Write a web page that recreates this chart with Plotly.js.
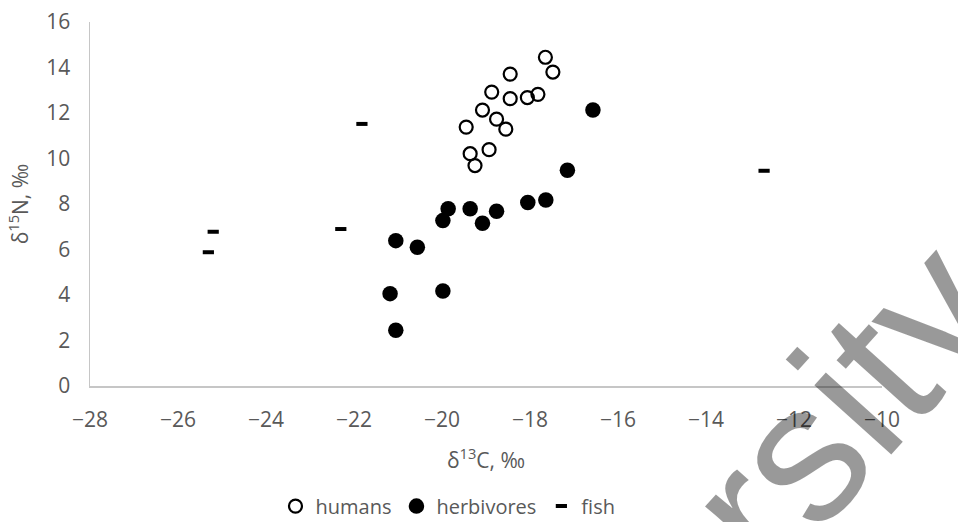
<!DOCTYPE html>
<html>
<head>
<meta charset="utf-8">
<script src="https://cdn.plot.ly/plotly-3.0.1.min.js"></script>
<style>html,body{margin:0;padding:0;background:#fff;}#chart{width:958px;height:522px;}</style>
</head>
<body>
<div id="chart"></div>
<script>
// δ13C (x) and δ15N (y) values, ‰
const humansX = [-17.65, -17.48, -18.45, -18.87, -17.82, -18.06, -18.45, -19.08, -18.76, -19.45, -18.55, -18.93, -19.36, -19.25];
const humansY = [14.45, 13.80, 13.71, 12.92, 12.82, 12.68, 12.63, 12.13, 11.73, 11.38, 11.29, 10.39, 10.21, 9.69];

const herbX = [-16.57, -17.15, -17.64, -18.05, -18.76, -19.08, -19.36, -19.86, -19.98, -21.05, -20.56, -21.18, -19.98, -21.05];
const herbY = [12.13, 9.48, 8.18, 8.07, 7.68, 7.15, 7.79, 7.79, 7.27, 6.39, 6.10, 4.06, 4.18, 2.45];

const fishX = [-21.82, -25.20, -25.31, -22.30, -12.68];
const fishY = [11.52, 6.78, 5.88, 6.90, 9.46];

const xTicks = [-28, -26, -24, -22, -20, -18, -16, -14, -12, -10];
const yTicks = [0, 2, 4, 6, 8, 10, 12, 14, 16];

const seriesNames = ['humans', 'herbivores', 'fish'];
const xTitle = 'δ<sup>13</sup>C, ‰';
const yTitle = 'δ<sup>15</sup>N, ‰';
const watermark = 'ersity';

const FONT = '"Open Sans", "Liberation Sans", sans-serif';
const TXT = '#595959';

const traces = [
  {
    x: humansX, y: humansY, name: seriesNames[0], type: 'scatter', mode: 'markers',
    marker: {symbol: 'circle-open', size: 13, color: '#000', line: {width: 2.2, color: '#000'}}
  },
  {
    x: herbX, y: herbY, name: seriesNames[1], type: 'scatter', mode: 'markers',
    marker: {symbol: 'circle', size: 15.5, color: '#000', line: {width: 0}}
  },
  {
    x: fishX, y: fishY, name: seriesNames[2], type: 'scatter', mode: 'markers',
    marker: {symbol: 'line-ew', size: 8, color: '#000', line: {width: 4, color: '#000'}}
  }
];

const layout = {
  width: 958, height: 522,
  margin: {l: 90, r: 76, t: 22, b: 136, autoexpand: false},
  paper_bgcolor: '#fff', plot_bgcolor: '#fff',
  font: {family: FONT, size: 20, color: TXT},
  showlegend: true,
  legend: {
    orientation: 'h', x: 0.452, xanchor: 'center', y: -0.33, yanchor: 'middle',
    font: {family: FONT, size: 20, color: TXT}, itemwidth: 30, tracegroupgap: 0
  },
  xaxis: {
    range: [-28, -10], tickvals: xTicks, ticktext: xTicks.map(v => (v < 0 ? '\u2212' + Math.abs(v) : String(v))),
    showgrid: false, zeroline: false, showline: true, linecolor: '#c6c6c6', linewidth: 1.5,
    ticks: '', ticklabelstandoff: 14, automargin: false,
    tickfont: {family: FONT, size: 21, color: TXT},
    title: {text: xTitle, font: {family: FONT, size: 21, color: TXT}, standoff: 21}
  },
  yaxis: {
    range: [0, 16], tickvals: yTicks,
    showgrid: false, zeroline: false, showline: true, linecolor: '#c6c6c6', linewidth: 1.5,
    ticks: '', ticklabelstandoff: 14, automargin: false,
    tickfont: {family: FONT, size: 21, color: TXT},
    title: {text: yTitle, font: {family: FONT, size: 21, color: TXT}, standoff: 12}
  },
  annotations: [{
    text: watermark, xref: 'paper', yref: 'paper', x: 0.905, y: -0.17,
    xanchor: 'center', yanchor: 'middle', showarrow: false, textangle: -48,
    font: {family: '"Liberation Sans", Arial, sans-serif', size: 196, color: 'rgba(0,0,0,0.4)'}
  }]
};

Plotly.newPlot('chart', traces, layout, {displayModeBar: false, staticPlot: true});
</script>
</body>
</html>
